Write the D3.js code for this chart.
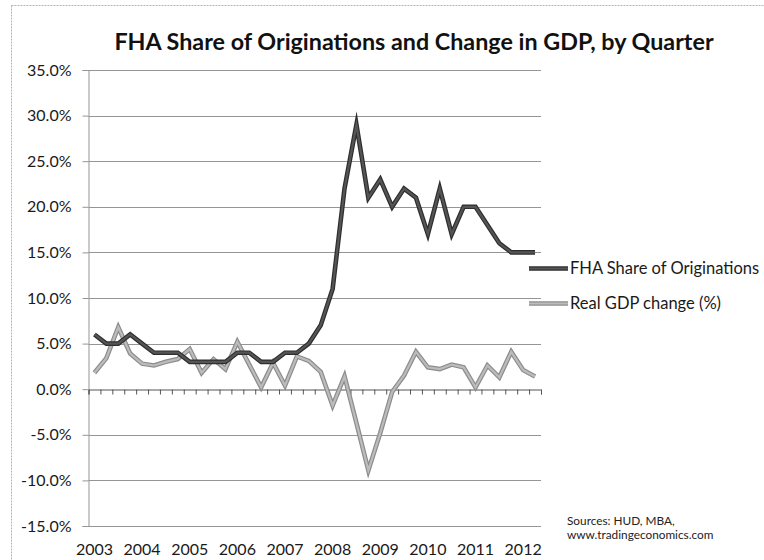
<!DOCTYPE html>
<html>
<head>
<meta charset="utf-8">
<script src="https://cdn.jsdelivr.net/npm/d3@7"></script>
<style>
  html, body { margin: 0; padding: 0; background: #fff; }
  svg { display: block; font-family: Lato, "Open Sans", sans-serif; }
</style>
</head>
<body>
<svg id="chart" width="764" height="560"></svg>
<script>
// Quarterly categories, 2003 Q1 – 2012 Q2
const quarters = [
  "2003 Q1","2003 Q2","2003 Q3","2003 Q4",
  "2004 Q1","2004 Q2","2004 Q3","2004 Q4",
  "2005 Q1","2005 Q2","2005 Q3","2005 Q4",
  "2006 Q1","2006 Q2","2006 Q3","2006 Q4",
  "2007 Q1","2007 Q2","2007 Q3","2007 Q4",
  "2008 Q1","2008 Q2","2008 Q3","2008 Q4",
  "2009 Q1","2009 Q2","2009 Q3","2009 Q4",
  "2010 Q1","2010 Q2","2010 Q3","2010 Q4",
  "2011 Q1","2011 Q2","2011 Q3","2011 Q4",
  "2012 Q1","2012 Q2"
];

// FHA share of mortgage originations (%)
const fhaShare = [6,5,5,6, 5,4,4,4, 3,3,3,3, 4,4,3,3, 4,4,5,7,
                  11,22,29,21, 23,20,22,21, 17,22,17,20, 20,18,16,15, 15,15];

// Real GDP change, annualised (%)
const gdpChange = [1.8,3.4,6.8,3.9, 2.8,2.6,3.0,3.3, 4.4,1.8,3.3,2.2,
                   5.2,2.7,0.2,2.9, 0.4,3.6,3.1,1.9, -1.8,1.4,-3.7,-8.9,
                   -4.8,-0.3,1.5,4.1, 2.4,2.2,2.7,2.4, 0.2,2.6,1.3,4.1, 2.1,1.4];

const yTicks = [-15,-10,-5,0,5,10,15,20,25,30,35];
const yearLabels = ["2003","2004","2005","2006","2007","2008","2009","2010","2011","2012"];

const seriesNames = ["FHA Share of Originations", "Real GDP change (%)"];
const titleText = "FHA Share of Originations and Change in GDP, by Quarter";
const sourceLines = ["Sources: HUD, MBA,", "www.tradingeconomics.com"];

const svg = d3.select("#chart");

// chart frame
svg.append("rect")
  .attr("x", 11.5).attr("y", 5.5)
  .attr("width", 900).attr("height", 700)
  .attr("fill", "none")
  .attr("stroke", "#b5b5b5")
  .attr("stroke-width", 1)
  .attr("stroke-dasharray", "2,1");

const plot = { left: 88.5, right: 541, top: 70, bottom: 526 };

const x = d3.scaleBand().domain(quarters).range([plot.left, plot.right]).padding(0);
const xEdge = d3.scaleLinear().domain([0, quarters.length]).range([plot.left, plot.right]);
const y = d3.scaleLinear().domain([-15, 35]).range([plot.bottom, plot.top]);

// horizontal gridlines (zero is drawn by the category axis)
svg.append("g")
  .selectAll("line")
  .data(yTicks.filter(v => v !== 0))
  .join("line")
  .attr("x1", plot.left).attr("x2", plot.right)
  .attr("y1", d => Math.round(y(d)) + 0.5).attr("y2", d => Math.round(y(d)) + 0.5)
  .attr("stroke", "#959595")
  .attr("stroke-width", 1);

// value axis
const yAxis = d3.axisLeft(y)
  .tickValues(yTicks)
  .tickSize(6)
  .tickPadding(11)
  .tickFormat(d => d.toFixed(1) + "%");
const gy = svg.append("g")
  .attr("transform", `translate(${plot.left},0)`)
  .call(yAxis);
gy.select(".domain").attr("stroke", "#959595");
gy.selectAll(".tick line").attr("stroke", "#959595");
gy.selectAll(".tick text")
  .attr("font-family", "Lato, sans-serif")
  .attr("font-size", 16)
  .attr("fill", "#1a1a1a");

// category axis line at zero with tick marks between quarters
const gx = svg.append("g")
  .attr("transform", `translate(0,${Math.round(y(0)) + 0.5})`)
  .call(d3.axisBottom(xEdge).tickValues(d3.range(0, quarters.length + 1)).tickSize(5).tickFormat(""));
gx.select(".domain").attr("stroke", "#555");
gx.selectAll(".tick line").attr("stroke", "#555");

// year labels along the bottom of the plot
const gLab = svg.append("g")
  .attr("transform", `translate(0,${plot.bottom})`)
  .call(d3.axisBottom(x)
    .tickValues(quarters.filter(q => q.endsWith("Q1")))
    .tickSize(0)
    .tickPadding(18)
    .tickFormat(q => yearLabels[yearLabels.indexOf(q.slice(0, 4))]));
gLab.select(".domain").remove();
gLab.selectAll(".tick text")
  .attr("font-family", "Lato, sans-serif")
  .attr("font-size", 16)
  .attr("fill", "#1a1a1a");

// series lines: dark outer stroke with a lighter core
const line = d3.line()
  .x((d, i) => x(quarters[i]) + x.bandwidth() / 2)
  .y(d => y(d));

function drawSeries(values, outer, inner) {
  const p = line(values);
  svg.append("path").attr("d", p)
    .attr("fill", "none").attr("stroke", outer)
    .attr("stroke-width", 4.6).attr("stroke-linejoin", "miter").attr("stroke-miterlimit", 6);
  svg.append("path").attr("d", p)
    .attr("fill", "none").attr("stroke", inner)
    .attr("stroke-width", 2.2).attr("stroke-linejoin", "miter").attr("stroke-miterlimit", 6);
}
drawSeries(gdpChange, "#8c8c8c", "#bcbcbc");
drawSeries(fhaShare, "#2e2e2e", "#555");

// legend
const legendY = [268.5, 303.5];
const legendColors = [["#2e2e2e", "#555"], ["#8c8c8c", "#bcbcbc"]];
const legend = svg.append("g");
legendColors.forEach((c, i) => {
  legend.append("line").attr("x1", 529).attr("x2", 568)
    .attr("y1", legendY[i]).attr("y2", legendY[i])
    .attr("stroke", c[0]).attr("stroke-width", 4.6);
  legend.append("line").attr("x1", 529).attr("x2", 568)
    .attr("y1", legendY[i]).attr("y2", legendY[i])
    .attr("stroke", c[1]).attr("stroke-width", 2.2);
  legend.append("text")
    .attr("x", 570).attr("y", legendY[i])
    .attr("dy", "0.35em")
    .attr("font-family", "Lato, sans-serif")
    .attr("font-size", 16.5)
    .attr("fill", "#1a1a1a")
    .text(seriesNames[i]);
});

// title
svg.append("text")
  .attr("x", 414).attr("y", 50)
  .attr("text-anchor", "middle")
  .attr("font-family", "Lato, sans-serif")
  .attr("font-weight", "bold")
  .attr("font-size", 23.3)
  .attr("fill", "#111")
  .text(titleText);

// sources note
svg.append("g").selectAll("text")
  .data(sourceLines)
  .join("text")
  .attr("x", 567)
  .attr("y", (d, i) => 525 + i * 14)
  .attr("font-family", "Lato, sans-serif")
  .attr("font-size", 11.8)
  .attr("fill", "#222")
  .text(d => d);
</script>
</body>
</html>
